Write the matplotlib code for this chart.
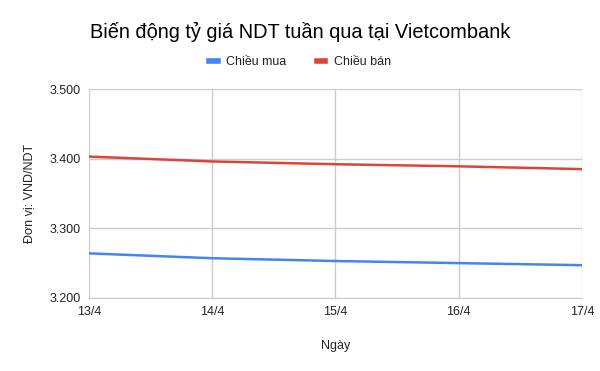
import matplotlib.pyplot as plt
from matplotlib.ticker import FuncFormatter

plt.rcParams['font.family'] = ['Liberation Sans', 'DejaVu Sans']

days = ['13/4', '14/4', '15/4', '16/4', '17/4']
buy_rate = [3.264, 3.257, 3.253, 3.250, 3.247]
sell_rate = [3.403, 3.396, 3.392, 3.389, 3.385]


def three_decimals(value, pos):
    return f'{value:.3f}'


fig = plt.figure(figsize=(6, 3.71), dpi=100)
ax = fig.add_axes([0.148, 0.197, 0.822, 0.563])

x = range(len(days))
ax.plot(x, buy_rate, color='#4285F4', linewidth=1.8, label='Chiều mua')
ax.plot(x, sell_rate, color='#DB4437', linewidth=1.8, label='Chiều bán')

ax.set_xlim(0, len(days) - 1)
ax.set_ylim(3.2, 3.5)
ax.set_yticks([3.2, 3.3, 3.4, 3.5])
ax.yaxis.set_major_formatter(FuncFormatter(three_decimals))
ax.set_xticks(list(x))
ax.set_xticklabels(days)

# light grid like the google chart
ax.grid(True, color='#cccccc', linewidth=1)
for side in ['top', 'right', 'left']:
    ax.spines[side].set_visible(False)
ax.spines['bottom'].set_color('#cccccc')
ax.tick_params(length=0, labelsize=9, colors='#222222', pad=6)

ax.set_ylabel('Đơn vị: VND/NDT', fontsize=9, color='#222222', labelpad=10)
ax.set_xlabel('Ngày', fontsize=9, color='#222222', labelpad=16)

fig.text(0.15, 0.913, 'Biến động tỷ giá NDT tuần qua tại Vietcombank',
         fontsize=14.4, color='#000000', va='center')

handles, labels = ax.get_legend_handles_labels()
leg = fig.legend(handles, labels, loc='center', bbox_to_anchor=(0.5, 0.832),
                 ncol=2, frameon=False, fontsize=9, handlelength=0.7,
                 handletextpad=0.7, columnspacing=2.4)
for line in leg.get_lines():
    line.set_linewidth(4)
for t in leg.get_texts():
    t.set_color('#222222')

fig.savefig('out.png', dpi=100)
